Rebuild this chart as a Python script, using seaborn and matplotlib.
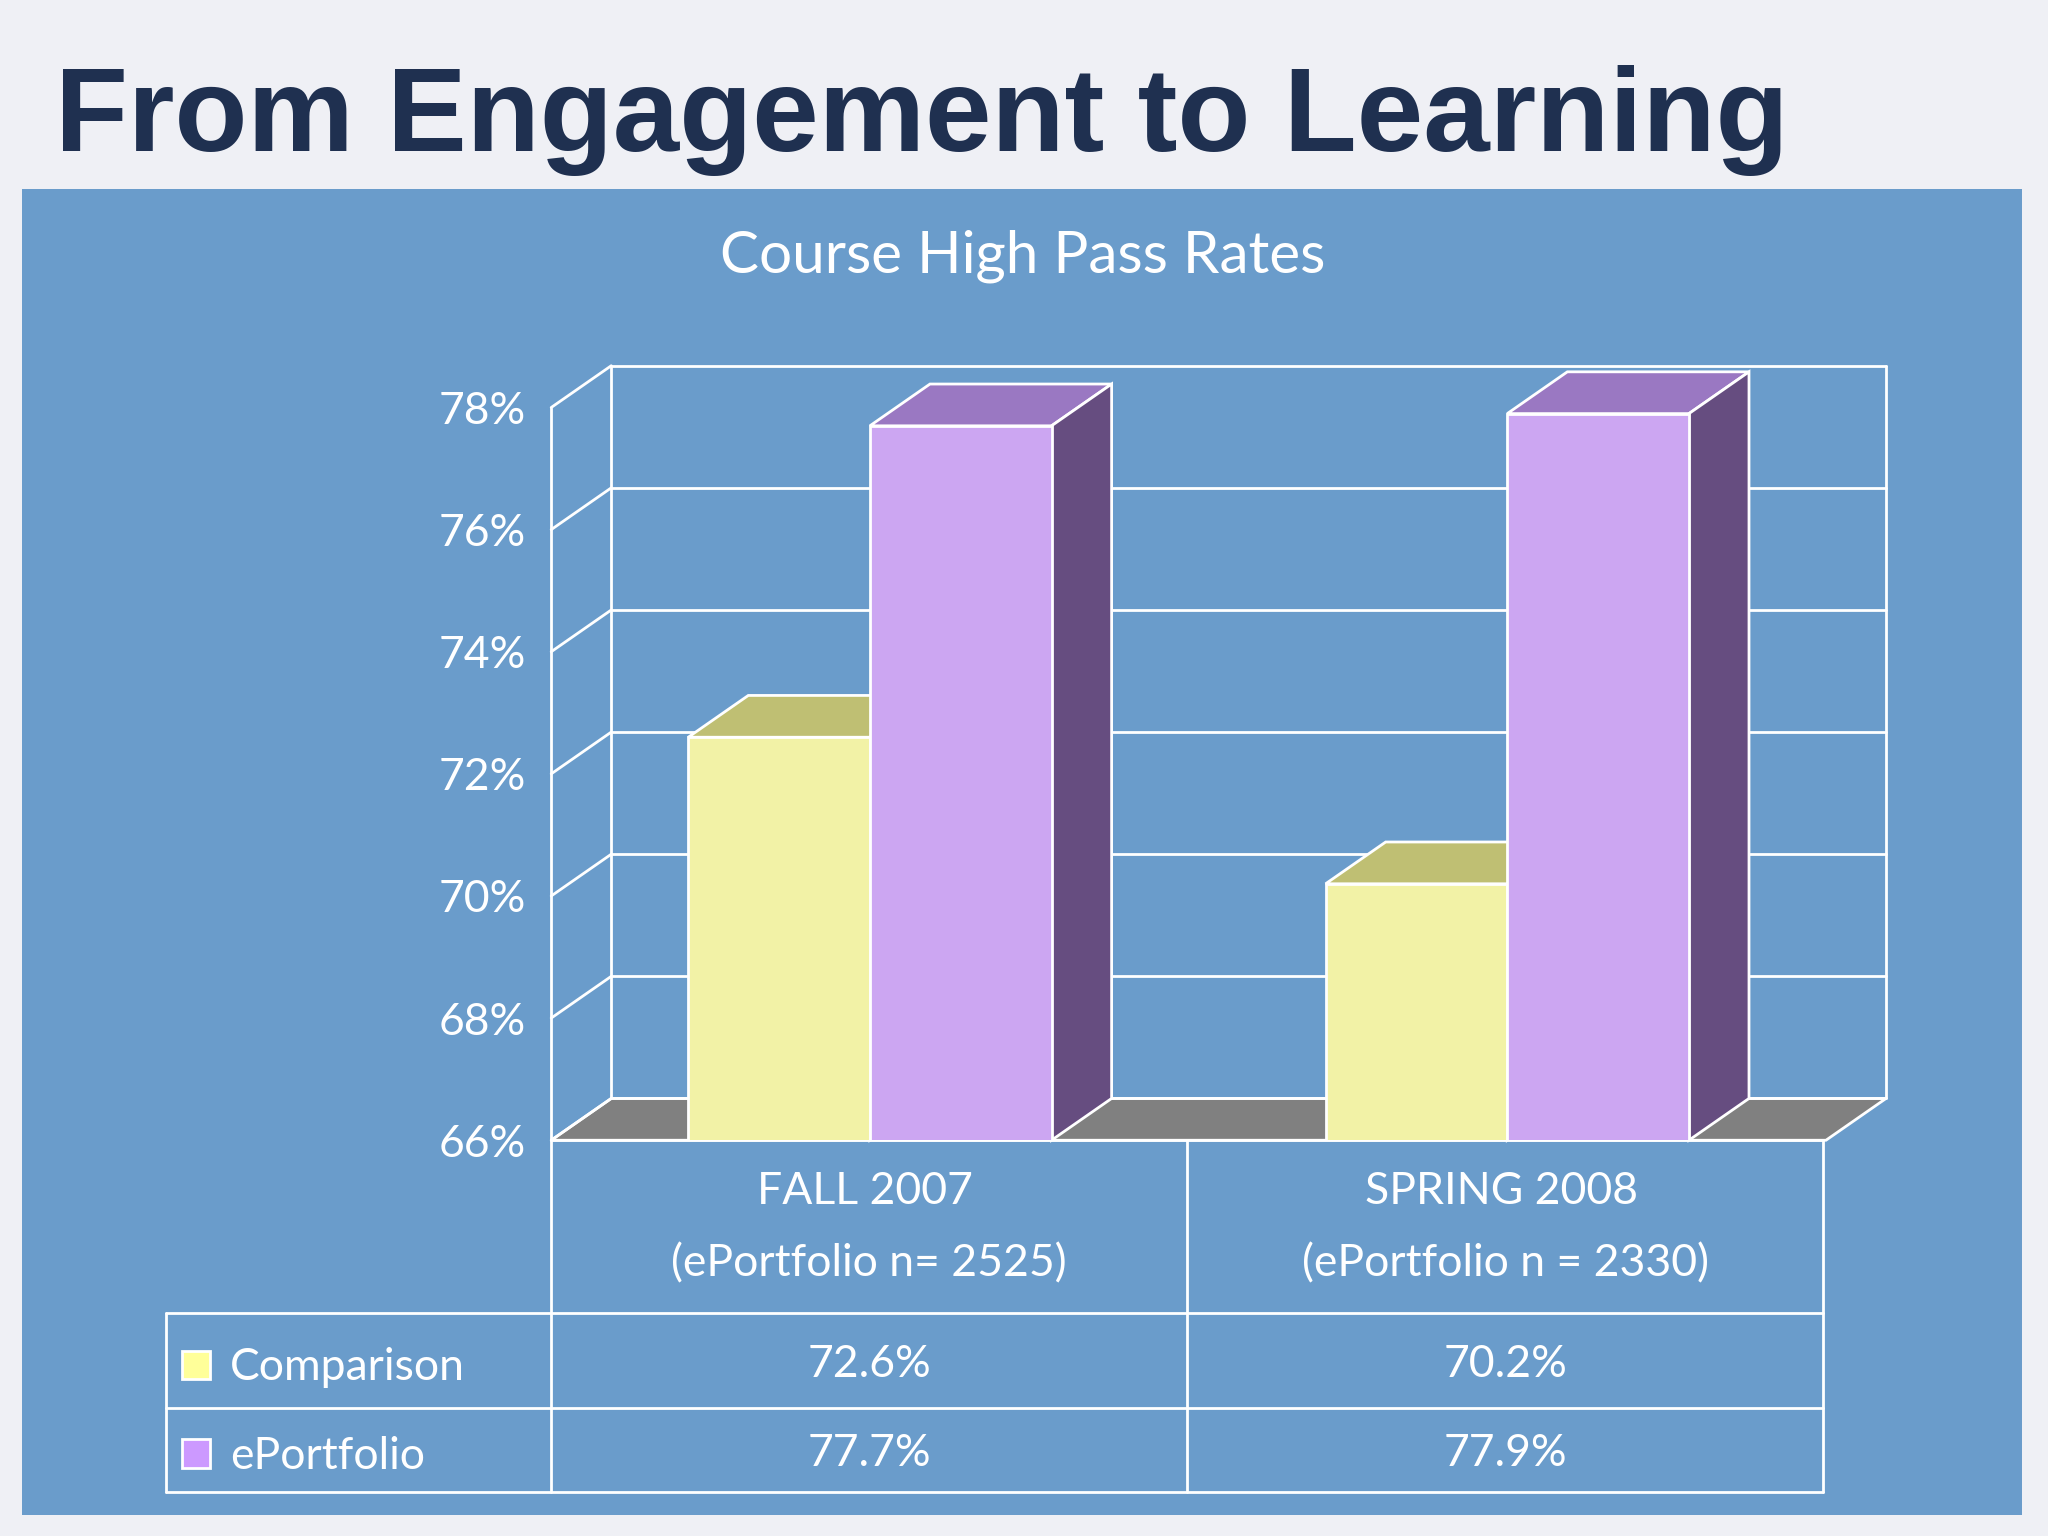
import matplotlib
matplotlib.use("Agg")
import matplotlib.pyplot as plt
from matplotlib.patches import Polygon, Rectangle
import seaborn as sns
import pandas as pd

terms = ["FALL 2007", "SPRING 2008"]
term_notes = ["(ePortfolio n= 2525)", "(ePortfolio n = 2330)"]
groups = ["Comparison", "ePortfolio"]
comparison = [72.6, 70.2]
eportfolio = [77.7, 77.9]
yticks = [66, 68, 70, 72, 74, 76, 78]

df = pd.DataFrame({
    "term": terms * 2,
    "group": ["Comparison"] * 2 + ["ePortfolio"] * 2,
    "rate": comparison + eportfolio,
})

front = {"Comparison": "#FFFF99", "ePortfolio": "#CC99FF"}
top = {"Comparison": "#BFBF73", "ePortfolio": "#9A78C2"}
side = {"Comparison": "#808050", "ePortfolio": "#664D80"}
bg = "#6A9CCB"
sns.set_theme(style="white")
plt.rcParams["font.family"] = ["Lato", "DejaVu Sans"]

W, H = 1568, 1176
fx = lambda x: x / W
fy = lambda y: 1 - y / H

fig = plt.figure(figsize=(20.48, 15.36), dpi=100)
fig.patch.set_facecolor("#EFF0F5")
fig.patches.append(Rectangle((fx(17), fy(1160)), fx(1531), (1160 - 145) / H,
                             transform=fig.transFigure, facecolor=bg, edgecolor="none", zorder=-5))
fig.text(fx(42), fy(92), "From Engagement to Learning", fontsize=86, fontweight="bold",
         color="#1F3050", va="center", family=["Liberation Sans", "DejaVu Sans"])
fig.text(fx(783), fy(196), "Course High Pass Rates", fontsize=42, color="white", ha="center", va="center")

ax = fig.add_axes([fx(422), fy(873), (1398 - 422) / W, (873 - 312) / H])
ax.set_zorder(2)
ax.set_facecolor("none")
sns.barplot(data=df, x="term", y="rate", hue="group", hue_order=groups,
            palette=front, width=0.57, edgecolor="white", linewidth=2,
            legend=False, ax=ax, zorder=3)
ax.set_xlim(-0.5, 1.5)
ax.set_ylim(66, 78)
for s in ax.spines.values():
    s.set_visible(False)
ax.set_xticks([])
ax.set_xlabel("")
ax.set_ylabel("")
ax.set_yticks(yticks)
ax.set_yticklabels([f"{v}%" for v in yticks], fontsize=32, color="white")
ax.tick_params(axis="y", length=0, pad=18)

dx, dy = 46 * 2 / 976, 32 * 12 / 561
lw = dict(color="white", lw=2, clip_on=False)
# floor
ax.add_patch(Polygon([(-0.5, 66), (1.5, 66), (1.5 + dx, 66 + dy), (-0.5 + dx, 66 + dy)],
                     closed=True, facecolor="#808080", edgecolor="white", lw=2, clip_on=False, zorder=1))
for v in yticks:
    ax.plot([-0.5, -0.5 + dx], [v, v + dy], **lw, zorder=2)
    ax.plot([-0.5 + dx, 1.5 + dx], [v + dy, v + dy], **lw, zorder=1)
ax.plot([-0.5, -0.5], [66, 78], **lw)
ax.plot([-0.5 + dx, -0.5 + dx], [66 + dy, 78 + dy], **lw)
ax.plot([1.5 + dx, 1.5 + dx], [66 + dy, 78 + dy], **lw)

for i, p in enumerate(ax.patches[:4]):
    g = groups[i // 2]
    x0, w, h = p.get_x(), p.get_width(), p.get_y() + p.get_height()
    ax.add_patch(Polygon([(x0, h), (x0 + w, h), (x0 + w + dx, h + dy), (x0 + dx, h + dy)],
                         facecolor=top[g], edgecolor="white", lw=2, clip_on=False, zorder=3))
    ax.add_patch(Polygon([(x0 + w, 66), (x0 + w + dx, 66 + dy), (x0 + w + dx, h + dy), (x0 + w, h)],
                         facecolor=side[g], edgecolor="white", lw=2, clip_on=False, zorder=3))
    p.set_zorder(4)

# data table
tl = dict(color="white", lw=2, transform=fig.transFigure)
cols = [422, 909, 1396]
for y in [873, 1005, 1078, 1142]:
    x0 = 422 if y == 873 else 127
    fig.add_artist(plt.Line2D([fx(x0), fx(1396)], [fy(y), fy(y)], **tl))
for x in cols:
    fig.add_artist(plt.Line2D([fx(x), fx(x)], [fy(873), fy(1142)], **tl))
fig.add_artist(plt.Line2D([fx(127), fx(127)], [fy(1005), fy(1142)], **tl))
for j, (t, n) in enumerate(zip(terms, term_notes)):
    cx = (cols[j] + cols[j + 1]) / 2
    fig.text(fx(cx - 3), fy(912), t, fontsize=32, color="white", ha="center", va="center")
    fig.text(fx(cx), fy(968), n, fontsize=32, color="white", ha="center", va="center")
    fig.text(fx(cx), fy(1045), f"{comparison[j]}%", fontsize=32, color="white", ha="center", va="center")
    fig.text(fx(cx), fy(1113), f"{eportfolio[j]}%", fontsize=32, color="white", ha="center", va="center")
for g, y in zip(groups, [1045, 1113]):
    fig.patches.append(Rectangle((fx(139), fy(y + 11)), fx(22), 22 / H, transform=fig.transFigure,
                                 facecolor=front[g], edgecolor="white", lw=2))
    fig.text(fx(176), fy(y + 2), g, fontsize=32, color="white", va="center")

fig.savefig("out.png", dpi=100, facecolor=fig.get_facecolor())
